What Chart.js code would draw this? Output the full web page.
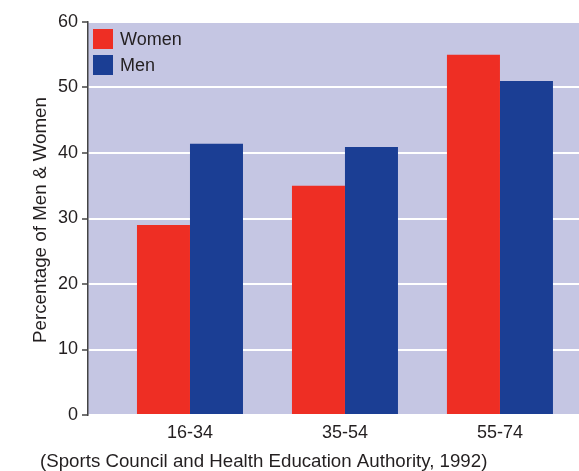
<!DOCTYPE html>
<html lang="en">
<head>
    <meta charset="UTF-8">
    <title>Percentage of Men & Women</title>
    <script src="https://cdn.jsdelivr.net/npm/chart.js"></script>
    <style>
        html, body { margin: 0; padding: 0; background: #fff; }
        #box { width: 579px; height: 471px; }
    </style>
</head>
<body>
    <div id="box"><canvas id="chart"></canvas></div>

    <script>
        // dados
        var categorias = ["16-34", "35-54", "55-74"];
        var mulheres = [29, 35, 55];
        var homens = [41.4, 40.9, 51];
        var nomesSeries = ["Women", "Men"];
        var tituloY = "Percentage of Men & Women";
        var fonte = "(Sports Council and Health Education Authority, 1992)";

        var corTexto = "#231f20";
        var familia = "'Liberation Sans', Arial, sans-serif";

        // fundo lilás da área do gráfico + legenda + textos extras
        var extras = {
            id: "extras",
            beforeDraw: function (chart) {
                var a = chart.chartArea;
                var ctx = chart.ctx;
                ctx.save();
                ctx.fillStyle = "#c5c6e3";
                ctx.fillRect(a.left, a.top, a.right - a.left, a.bottom - a.top);
                ctx.restore();
            },
            afterDraw: function (chart) {
                var ctx = chart.ctx;
                ctx.save();
                // legenda
                chart.data.datasets.forEach(function (ds, i) {
                    var y = 29 + i * 26;
                    ctx.fillStyle = ds.backgroundColor;
                    ctx.fillRect(93, y, 20, 20);
                    ctx.fillStyle = corTexto;
                    ctx.font = "18px " + familia;
                    ctx.textBaseline = "middle";
                    ctx.textAlign = "left";
                    ctx.fillText(ds.label, 120, y + 11);
                });
                // título do eixo y
                ctx.translate(41, 220);
                ctx.rotate(-Math.PI / 2);
                ctx.textAlign = "center";
                ctx.textBaseline = "middle";
                ctx.font = "18.8px " + familia;
                ctx.fillText(tituloY, 0, 0);
                ctx.restore();
                // fonte dos dados
                ctx.save();
                ctx.fillStyle = corTexto;
                ctx.font = "18.7px " + familia;
                ctx.textBaseline = "middle";
                ctx.textAlign = "left";
                ctx.fillText(fonte, 40, 462);
                ctx.restore();
            }
        };

        var ctx = document.getElementById("chart").getContext("2d");
        new Chart(ctx, {
            type: "bar",
            data: {
                datasets: [
                    {
                        label: nomesSeries[0],
                        data: mulheres.map(function (v, i) { return { x: i, y: v }; }),
                        backgroundColor: "#ee2e24"
                    },
                    {
                        label: nomesSeries[1],
                        data: homens.map(function (v, i) { return { x: i, y: v }; }),
                        backgroundColor: "#1b3e94"
                    }
                ]
            },
            options: {
                responsive: true,
                maintainAspectRatio: false,
                animation: false,
                barPercentage: 1,
                categoryPercentage: 0.684,
                layout: { padding: { top: 22, left: 0, right: 0, bottom: 0 } },
                plugins: {
                    legend: { display: false },
                    tooltip: { enabled: false }
                },
                scales: {
                    x: {
                        type: "linear",
                        offset: false,
                        min: -0.658,
                        max: 2.51,
                        afterBuildTicks: function (scale) {
                            scale.ticks = categorias.map(function (c, i) { return { value: i }; });
                        },
                        afterFit: function (scale) { scale.height = 56; },
                        grid: { display: false, drawTicks: false },
                        border: { display: false },
                        ticks: {
                            padding: 7,
                            color: corTexto,
                            font: { family: familia, size: 18 },
                            callback: function (v) { return categorias[v]; }
                        }
                    },
                    y: {
                        min: 0,
                        max: 60,
                        afterFit: function (scale) { scale.width = 88; },
                        grid: {
                            color: "#ffffff",
                            lineWidth: 2,
                            tickColor: "#444",
                            tickWidth: 1.5,
                            tickLength: 6
                        },
                        border: { color: "#444", width: 1.5 },
                        ticks: {
                            stepSize: 10,
                            padding: 4,
                            color: corTexto,
                            font: { family: familia, size: 18 }
                        }
                    }
                }
            },
            plugins: [extras]
        });
    </script>
</body>
</html>
